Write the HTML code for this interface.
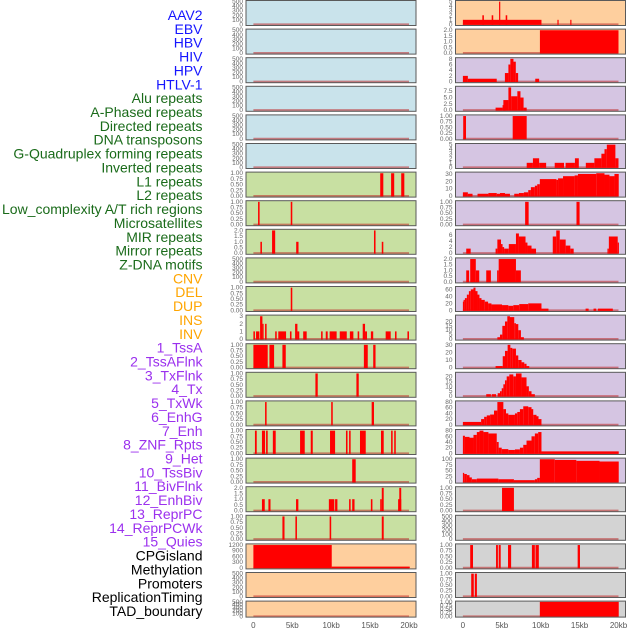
<!DOCTYPE html>
<html><head><meta charset="utf-8"><style>
html,body{margin:0;padding:0;background:#fff;}
svg{display:block;font-family:"Liberation Sans",sans-serif;}
</style></head><body>
<svg id="chart" width="630" height="630" viewBox="0 0 630 630"></svg>
<script>
const labelNames = ["AAV2","EBV","HBV","HIV","HPV","HTLV-1","Alu repeats","A-Phased repeats","Directed repeats","DNA transposons","G-Quadruplex forming repeats","Inverted repeats","L1 repeats","L2 repeats","Low_complexity A/T rich regions","Microsatellites","MIR repeats","Mirror repeats","Z-DNA motifs","CNV","DEL","DUP","INS","INV","1_TssA","2_TssAFlnk","3_TxFlnk","4_Tx","5_TxWk","6_EnhG","7_Enh","8_ZNF_Rpts","9_Het","10_TssBiv","11_BivFlnk","12_EnhBiv","13_ReprPC","14_ReprPCWk","15_Quies","CPGisland","Methylation","Promoters","ReplicationTiming","TAD_boundary"];
const labelColors = ["#1515ff","#1515ff","#1515ff","#1515ff","#1515ff","#1515ff","#1a6b1a","#1a6b1a","#1a6b1a","#1a6b1a","#1a6b1a","#1a6b1a","#1a6b1a","#1a6b1a","#1a6b1a","#1a6b1a","#1a6b1a","#1a6b1a","#1a6b1a","#ffa500","#ffa500","#ffa500","#ffa500","#ffa500","#9b30ee","#9b30ee","#9b30ee","#9b30ee","#9b30ee","#9b30ee","#9b30ee","#9b30ee","#9b30ee","#9b30ee","#9b30ee","#9b30ee","#9b30ee","#9b30ee","#9b30ee","#000","#000","#000","#000","#000"];

const xTickValues = [0,5,10,15,20];
const xTickLabels = ["0","5kb","10kb","15kb","20kb"];

const T1 = [0,0.25,0.5,0.75,1], T1L = ["0.00","0.25","0.50","0.75","1.00"];
const T2 = [0,0.5,1,1.5,2], T2L = ["0.0","0.5","1.0","1.5","2.0"];
const T500 = [0,100,200,300,400,500], T500L = ["0","100","200","300","400","500"];

// left column: [start kb, end kb, value]
const L7 = [[16.3,16.7,1],[17.7,18.1,1],[19.0,19.4,1]];
const L8 = [[0.6,0.8,1],[4.8,5.0,1]];
const L9 = [[0.9,1.1,1],[2.4,2.8,2],[5.5,5.8,1],[15.5,15.7,2],[16.5,16.7,1]];
const L11 = [[4.8,5.0,1]];
const L12 = [[0,0.2,1],[0.34,0.77,1],[0.86,1.16,3],[1.16,1.29,2],[1.5,1.7,2],[2.8,3.0,1],[3.2,4.2,1],[4.7,4.9,1],[5.36,5.66,2],[5.66,5.9,1],[6.4,6.85,1],[8.7,8.9,1],[9.3,9.55,1],[9.8,10.7,1],[11.1,12.0,1],[12.4,12.85,1],[13.4,13.6,1],[14.05,14.35,2],[14.35,14.6,1],[15.1,15.4,1],[17.0,17.65,1],[18.2,18.4,1],[19.8,20.0,1]];
const L13 = [[0,1.84,1],[2.06,2.66,1],[3.73,4.16,1],[14.2,14.7,1],[15.4,15.7,1]];
const L14 = [[7.97,8.27,1],[13.24,13.54,1]];
const L15 = [[1.5,1.7,1],[10.0,10.2,1],[15.2,15.5,1]];
const L16 = [[0.2,0.43,1],[1.1,1.5,1],[1.63,1.84,1],[2.5,2.87,1],[6.0,6.6,1],[7.37,7.63,1],[9.85,10.5,1],[11.9,12.1,1],[12.3,12.5,1],[13.7,14.44,1],[16.4,16.75,1],[17.7,17.9,1],[18.1,18.3,1]];
const L17 = [[12.7,13.15,1]];
const L18 = [[1.1,1.46,1],[1.93,2.2,1],[5.48,5.78,1],[9.7,10.4,1],[10.5,10.8,1],[12.3,12.5,1],[12.7,13.0,1],[15.1,15.3,1],[16.3,16.5,1],[16.5,16.75,2],[18.6,19.0,1],[18.75,19.0,2]];
const L19 = [[3.73,4.0,1],[5.4,5.6,1],[9.8,10.0,1],[16.5,16.75,1]];
const L20 = [[0,10.07,1200],[10.07,20.1,60]];

// right column
const R1 = [[0,10.1,1],[2.5,2.7,2],[3.7,3.9,2],[4.65,4.8,5],[5.5,5.7,2],[12.15,12.3,1],[13.8,13.95,1]];
const R2 = [[9.9,20,2]];
const R3 = [[0,0.64,2],[0.64,4.35,1],[5.4,5.85,3],[5.85,6.1,6],[6.1,6.5,8],[6.5,6.8,7],[6.8,7.1,3],[9.3,9.8,1]];
const R4 = [[4.2,5.1,1],[5.1,5.5,2],[5.2,5.85,4],[5.85,6.2,9],[6.2,7.0,5.5],[7.0,7.4,7.5],[7.4,7.8,5],[7.8,8.2,1]];
const R5 = [[0.04,0.4,1],[6.4,8.2,1]];
const R6 = [[8.2,9.0,1],[9.0,9.8,2],[9.8,10.7,1],[11.8,13.0,1],[13.2,14.4,1],[14.4,14.9,2],[15.8,16.9,1],[16.9,17.8,2],[17.8,18.2,3],[18.2,18.5,4],[18.5,19.6,5],[19.6,20.0,2]];
const R7 = [[0,0.64,5],[0.64,1.24,3],[1.88,3.28,3],[3.28,4.35,4],[4.35,4.77,3],[4.77,5.41,4],[5.41,6.05,3],[6.6,7.2,3],[7.2,7.84,4],[7.84,8.4,5],[8.4,8.74,8],[8.74,9.25,12],[9.25,9.55,14],[9.55,9.89,16],[9.89,12.02,23],[12.02,12.23,22],[12.23,12.87,24],[12.87,14.36,27],[14.36,14.79,28],[14.79,17.14,30],[17.14,18.2,31],[18.2,18.84,29],[18.84,19.48,27],[19.48,20.03,30]];
const R8 = [[8.0,8.45,1],[14.6,15.0,1]];
const R9 = [[0.43,1.0,1.5],[4.2,4.43,1.5],[4.43,4.9,4.5],[4.9,5.1,3],[5.1,5.3,2],[5.3,5.9,1.5],[5.9,6.82,3],[6.82,7.2,6.5],[7.2,8.05,5.5],[8.05,8.3,3.5],[8.3,8.82,2.5],[8.82,9.4,1.5],[11.55,12.0,5.5],[12.0,12.45,7.5],[12.45,13.21,4.5],[13.21,13.81,2.5],[13.81,14.24,1.5],[18.58,18.76,1.5],[18.76,19.9,5.5],[19.9,20.03,3.5]];
const R10 = [[0.43,0.8,1],[0.94,1.66,2],[1.66,2.1,1],[3.0,3.6,1],[4.4,4.6,1],[4.6,6.82,2],[6.82,7.45,1]];
const R11 = [[0,0.09,25],[0.09,0.26,30],[0.26,0.51,35],[0.51,0.77,45],[0.77,1.02,55],[1.02,1.36,60],[1.36,1.62,65],[1.62,1.88,55],[1.88,2.13,45],[2.13,2.39,35],[2.39,2.81,30],[2.81,3.24,25],[3.24,3.67,20],[3.67,5.03,17],[5.03,5.84,15],[5.84,6.48,13],[6.48,7.24,15],[7.24,8.4,18],[8.4,10.1,20],[10.1,11.0,5],[15.77,16.16,5],[16.79,17.14,5],[17.35,19.27,5]];
const R12 = [[4.43,4.77,2],[4.77,5.07,5],[5.07,5.41,15],[5.41,5.71,20],[5.71,6.05,26],[6.05,6.6,25],[6.6,6.82,18],[6.82,7.12,17],[7.12,7.46,10],[7.46,7.84,2]];
const R13 = [[4.2,5.12,2],[5.12,5.41,15],[5.41,5.75,22],[5.75,6.1,30],[6.1,6.35,26],[6.35,6.82,25],[6.82,7.12,16],[7.12,7.54,10],[7.54,7.89,7],[7.89,8.18,5],[8.18,8.53,2]];
const R14 = [[3.0,3.6,2],[3.7,4.26,2],[4.47,4.77,3],[4.77,4.99,5],[4.99,5.2,8],[5.2,5.41,12],[5.41,5.63,16],[5.63,5.97,20],[5.97,6.48,22],[6.48,6.82,20],[6.82,7.54,23],[7.54,8.18,19],[8.18,8.48,10],[8.48,8.82,5],[8.82,9.25,2]];
const R15 = [[0,2.34,10],[2.34,2.73,20],[2.73,3.07,28],[3.07,3.5,33],[3.5,4.0,36],[4.0,4.43,50],[4.43,5.2,80],[5.2,5.54,55],[5.54,5.84,40],[5.84,6.69,35],[6.69,6.99,40],[6.99,7.33,45],[7.33,7.76,55],[7.76,8.4,65],[8.4,8.82,62],[8.82,9.04,55],[9.04,9.46,35],[9.46,9.72,30],[9.72,10.1,20]];
const R16 = [[0,0.26,62],[0.26,0.85,58],[0.85,1.36,55],[1.36,1.79,65],[1.79,2.13,75],[2.13,2.64,80],[2.64,3.28,75],[3.28,4.35,70],[4.35,4.6,40],[4.6,4.99,20],[4.99,5.84,15],[5.84,6.69,12],[6.69,7.33,14],[7.33,7.76,20],[7.76,8.18,30],[8.18,8.82,45],[8.82,9.25,60],[9.25,9.68,70],[9.68,10.1,75],[10.1,20.03,7]];
const R17 = [[0,0.17,40],[0.17,0.51,35],[0.51,0.85,30],[0.85,1.15,20],[1.15,1.79,12],[1.79,4.56,15],[4.56,6.56,12],[6.56,9.25,8],[9.25,9.55,12],[9.55,9.89,18],[9.89,11.81,100],[11.81,14.58,97],[14.58,17.56,93],[17.56,20.03,90]];
const R18 = [[5.03,6.56,1]];
const R20 = [[0.94,1.3,1],[4.26,4.5,1],[4.6,4.86,1],[5.8,6.2,1],[8.87,9.25,1],[9.33,9.76,1],[14.75,15.05,1]];
const R21 = [[1.07,1.4,1],[1.53,1.8,1]];
const R22 = [[9.89,20.03,1]];

const leftSeries = [[],[],[],[],[],[],L7,L8,L9,[],L11,L12,L13,L14,L15,L16,L17,L18,L19,L20,[],[]];
const leftMax = [500,500,500,500,500,500,1,1,2,500,1,3,1,1,1,1,1,2,1,1200,500,500];
const leftTicks = [T500,T500,T500,T500,T500,T500,T1,T1,T2,T500,T1,[0,1,2,3],T1,T1,T1,T1,T1,T2,T1,[0,300,600,900,1200],T500,T500];
const leftTickLabels = [T500L,T500L,T500L,T500L,T500L,T500L,T1L,T1L,T2L,T500L,T1L,["0","1","2","3"],T1L,T1L,T1L,T1L,T1L,T2L,T1L,["0","300","600","900","1200"],T500L,T500L];
const leftFill = ["#c9e3eb","#c9e3eb","#c9e3eb","#c9e3eb","#c9e3eb","#c9e3eb","#c8e0a2","#c8e0a2","#c8e0a2","#c8e0a2","#c8e0a2","#c8e0a2","#c8e0a2","#c8e0a2","#c8e0a2","#c8e0a2","#c8e0a2","#c8e0a2","#c8e0a2","#fecf9e","#fecf9e","#fecf9e"];

const rightSeries = [R1,R2,R3,R4,R5,R6,R7,R8,R9,R10,R11,R12,R13,R14,R15,R16,R17,R18,[],R20,R21,R22];
const rightMax = [5,2,8,9,1,5,31,1,7.5,2,65,26,30,23,80,80,100,1,500,1,1,1];
const rightTicks = [[0,1,2,3,4,5],T2,[0,2,4,6,8],[0,2.5,5,7.5],T1,[0,1,2,3,4,5],[0,10,20,30],T1,[0,2,4,6],T2,[0,20,40,60],[0,5,10,15,20],[0,10,20,30],[0,5,10,15,20],[0,20,40,60,80],[0,20,40,60,80],[0,25,50,75,100],T1,T500,T1,T1,T1];
const rightTickLabels = [["0","1","2","3","4","5"],T2L,["0","2","4","6","8"],["0.0","2.5","5.0","7.5"],T1L,["0","1","2","3","4","5"],["0","10","20","30"],T1L,["0","2","4","6"],T2L,["0","20","40","60"],["0","5","10","15","20"],["0","10","20","30"],["0","5","10","15","20"],["0","20","40","60","80"],["0","20","40","60","80"],["0","25","50","75","100"],T1L,T500L,T1L,T1L,T1L];
const rightFill = ["#fecf9e","#fecf9e","#d5c5e2","#d5c5e2","#d5c5e2","#d5c5e2","#d5c5e2","#d5c5e2","#d5c5e2","#d5c5e2","#d5c5e2","#d5c5e2","#d5c5e2","#d5c5e2","#d5c5e2","#d5c5e2","#d5c5e2","#d3d3d3","#d3d3d3","#d3d3d3","#d3d3d3","#d3d3d3"];

const NS = "http://www.w3.org/2000/svg";
const svg = document.getElementById("chart");
function mk(tag, attrs, parent){
  const e = document.createElementNS(NS, tag);
  for (const k in attrs) e.setAttribute(k, attrs[k]);
  (parent||svg).appendChild(e);
  return e;
}
const X0 = -0.95, X1 = 20.9, PW = 170;
function xScale(px, kb){ return px + (kb - X0) / (X1 - X0) * PW; }
function rowTop(i){ return 0.5 + i*28.6; }
function rowH(i){ return i === 21 ? 16 : 25; }
function yScale(top, h, m, v){ return top + h - (v + 0.05*m) / (1.1*m) * h; }

// labels
labelNames.forEach((n, i) => {
  const t = mk("text", {x:202.5, y:20 + i*13.86, "text-anchor":"end", "font-size":"14", fill:labelColors[i]});
  
  
  t.textContent = n;
});

function drawPanel(col, px, i, series, m, ticks, tickLabels, fill){
  const top = rowTop(i), h = rowH(i);
  const g = mk("g", {});
  
  
  const bg = mk("rect", {x:px, y:top, width:PW, height:h, fill:fill}, g);
  
  
  // baseline
  const y0 = yScale(top, h, m, 0);
  const bl = mk("line", {x1:xScale(px,0), x2:xScale(px,20), y1:y0, y2:y0, stroke:"rgba(190,40,40,0.55)", "stroke-width":2}, g);
  
  
  series.forEach(d => {
    const yv = yScale(top, h, m, d[2]);
    const x1 = xScale(px, d[0]), x2 = xScale(px, d[1]);
    const r = mk("rect", {x:x1, y:yv, width:Math.max(1.2, x2-x1), height:Math.max(0, y0-yv+0.5), fill:"#ff0000"}, g);
    
    
  });
  const br = mk("rect", {x:px, y:top, width:PW, height:h, fill:"none", stroke:"#5a5a5a", "stroke-width":1}, g);
  
  
  ticks.forEach((tv, k) => {
    const ty = yScale(top, h, m, tv);
    const t = mk("text", {x:px-3, y:ty+2, "text-anchor":"end", "font-size":"6.5", fill:"#666"}, g);
    
    
    t.textContent = tickLabels[k];
  });
}
for (let i = 0; i < 22; i++){
  drawPanel("left", 246, i, leftSeries[i], leftMax[i], leftTicks[i], leftTickLabels[i], leftFill[i]);
  drawPanel("right", 455.5, i, rightSeries[i], rightMax[i], rightTicks[i], rightTickLabels[i], rightFill[i]);
}
[246, 455.5].forEach(px => {
  xTickValues.forEach((v, k) => {
    const t = mk("text", {x:xScale(px, v), y:628, "text-anchor":"middle", "font-size":"8", fill:"#555"});
    
    
    t.textContent = xTickLabels[k];
  });
});
</script>
</body></html>
